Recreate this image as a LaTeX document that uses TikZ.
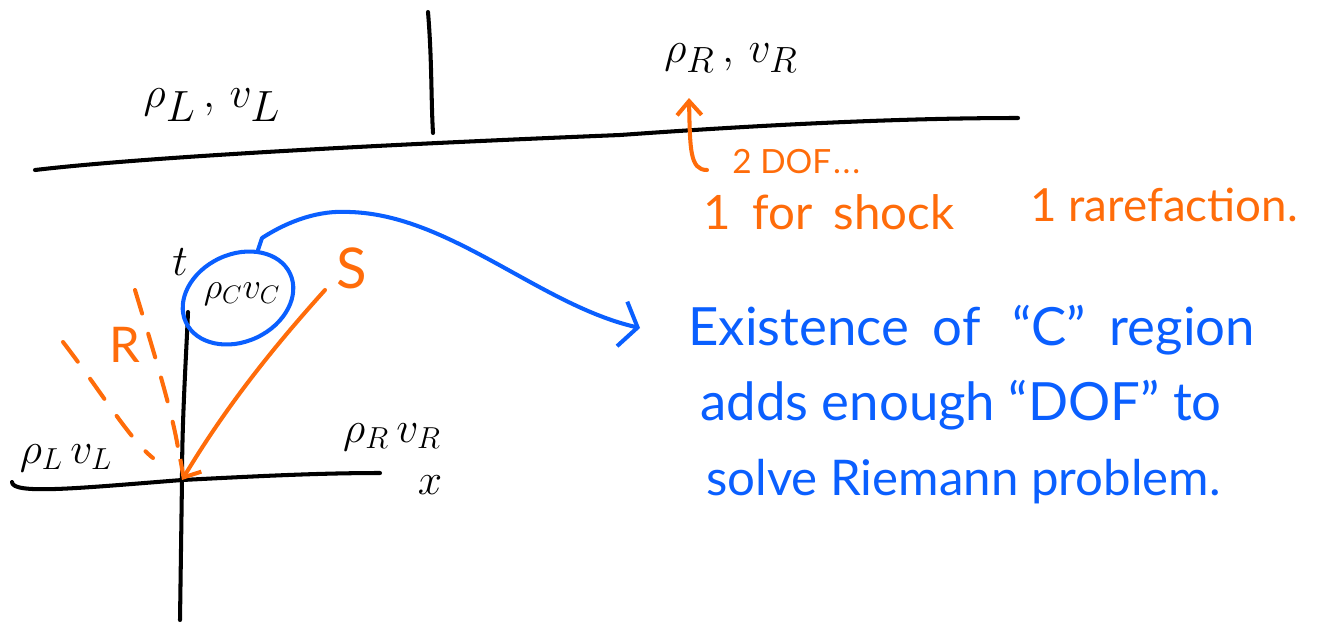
\documentclass[tikz,border=0pt]{standalone}
\usepackage{fontspec}
\setmainfont{Lato}
\usetikzlibrary{arrows.meta,shapes.geometric}
\definecolor{orng}{RGB}{255,108,10}
\definecolor{blu}{RGB}{10,95,255}
\definecolor{ink}{RGB}{0,0,0}
\tikzset{
  pen/.style={line width=2.3pt, line cap=round, line join=round},
  inkline/.style={pen, draw=ink},
  oline/.style={pen, draw=orng},
  bline/.style={pen, draw=blu},
  barb/.style={-{Straight Barb[length=8pt,width=14pt,line width=2.3pt]}},
  bigtxt/.style={font=\fontsize{37}{40}\selectfont, inner sep=0pt},
  midtxt/.style={font=\fontsize{24}{28}\selectfont, inner sep=0pt},
  otxt/.style={text=orng, font=\fontsize{27}{30}\selectfont, inner sep=0pt},
  btxt/.style={text=blu, font=\fontsize{30}{34}\selectfont, inner sep=0pt, anchor=west},
}
\begin{document}
\begin{tikzpicture}[x=0.02cm,y=-0.02cm]
\useasboundingbox (0,0) rectangle (1321,626);
% top sketch
\coordinate (tl) at (35,170);
\coordinate (tm) at (620,135);
\coordinate (tr) at (1018,118);
\coordinate (vt) at (428,12);
\coordinate (vb) at (433,133);
\draw[inkline] (tl) .. controls (120,160) and (300,148) .. (tm) .. controls (760,125) and (900,118) .. (tr);
\draw[inkline] (vt) .. controls (432,60) and (431,100) .. (vb);
\node[bigtxt] (rlvl) at (212,105) {$\rho_L\,,\,v_L$};
\node[bigtxt, font=\fontsize{32}{36}\selectfont] (rrvr) at (731,58) {$\rho_R\,,\,v_R$};
\coordinate (oa) at (707,170);
\coordinate (ob) at (689,98);
\draw[oline, barb] (oa) .. controls (690,170) and (690,150) .. (ob);
\node[otxt, anchor=west, font=\fontsize{19}{23}\selectfont] (dof) at (732,162) {2 DOF\kern1pt.\kern1pt.\kern1pt.};
\node[otxt, anchor=west] (shock) at (703,212) {1\hspace{0.45em}for\hspace{0.45em}shock};
\node[otxt, anchor=west, font=\fontsize{26}{30}\selectfont] (rare) at (1030,205) {1 rarefaction.};
% x-t diagram
\coordinate (ttop) at (188,312);
\coordinate (o) at (182,480);
\coordinate (tbot) at (180,620);
\coordinate (xl) at (12,482);
\coordinate (xr) at (380,473);
\draw[inkline] (ttop) .. controls (186,360) and (182,420) .. (o) -- (tbot);
\draw[inkline] (xl) .. controls (12,495) and (80,488) .. (o) .. controls (260,476) and (320,473) .. (xr);
\node[midtxt, font=\fontsize{28}{32}\selectfont] (tlab) at (180,262) {$t$};
\node[midtxt, font=\fontsize{28}{32}\selectfont] (xlab) at (430,485) {$x$};
\node[midtxt] (lstate) at (66,458) {$\rho_L\, v_L$};
\node[midtxt, font=\fontsize{25}{29}\selectfont] (rstate) at (392,437) {$\rho_R\, v_R$};
% C region
\node[draw=blu, line width=2.3pt, ellipse, rotate=25, minimum width=2.3cm, minimum height=1.75cm] (creg) at (238,298) {};
\node[midtxt, font=\fontsize{22}{26}\selectfont] (cstate) at (242,294) {$\rho_C v_C$};
% waves
\coordinate (s1) at (325,290);
\draw[oline, barb] (s1) .. controls (280,340) and (230,400) .. (o);
\node[otxt, font=\fontsize{32}{36}\selectfont] (slab) at (352,268) {S};
\coordinate (r1a) at (63,342);
\coordinate (r1b) at (153,458);
\coordinate (r2a) at (135,290);
\coordinate (r2b) at (178,448);
\draw[oline, dash pattern=on 14pt off 12pt] (r1a) .. controls (100,390) and (130,440) .. (r1b);
\draw[oline, dash pattern=on 14pt off 12pt] (r2a) .. controls (150,340) and (172,410) .. (r2b);
\node[otxt, font=\fontsize{28}{32}\selectfont] (rlab) at (125,345) {R};
% explanation
\coordinate (bstart) at (258,250);
\coordinate (bend) at (640,328);
\draw[bline, -{Straight Barb[length=9pt,width=26pt,line width=2.3pt]}] (bstart) -- (262,238) .. controls (290,220) and (320,210) .. (350,212) .. controls (450,215) and (540,305) .. (bend);
\node[btxt] (l1) at (688,330) {Existence\hspace{0.45em}of\hspace{0.6em}“C”\hspace{0.45em}region};
\node[btxt] (l2) at (700,405) {adds enough “DOF” to};
\node[btxt, font=\fontsize{28}{32}\selectfont] (l3) at (706,482) {solve Riemann problem.};
\end{tikzpicture}
\end{document}
